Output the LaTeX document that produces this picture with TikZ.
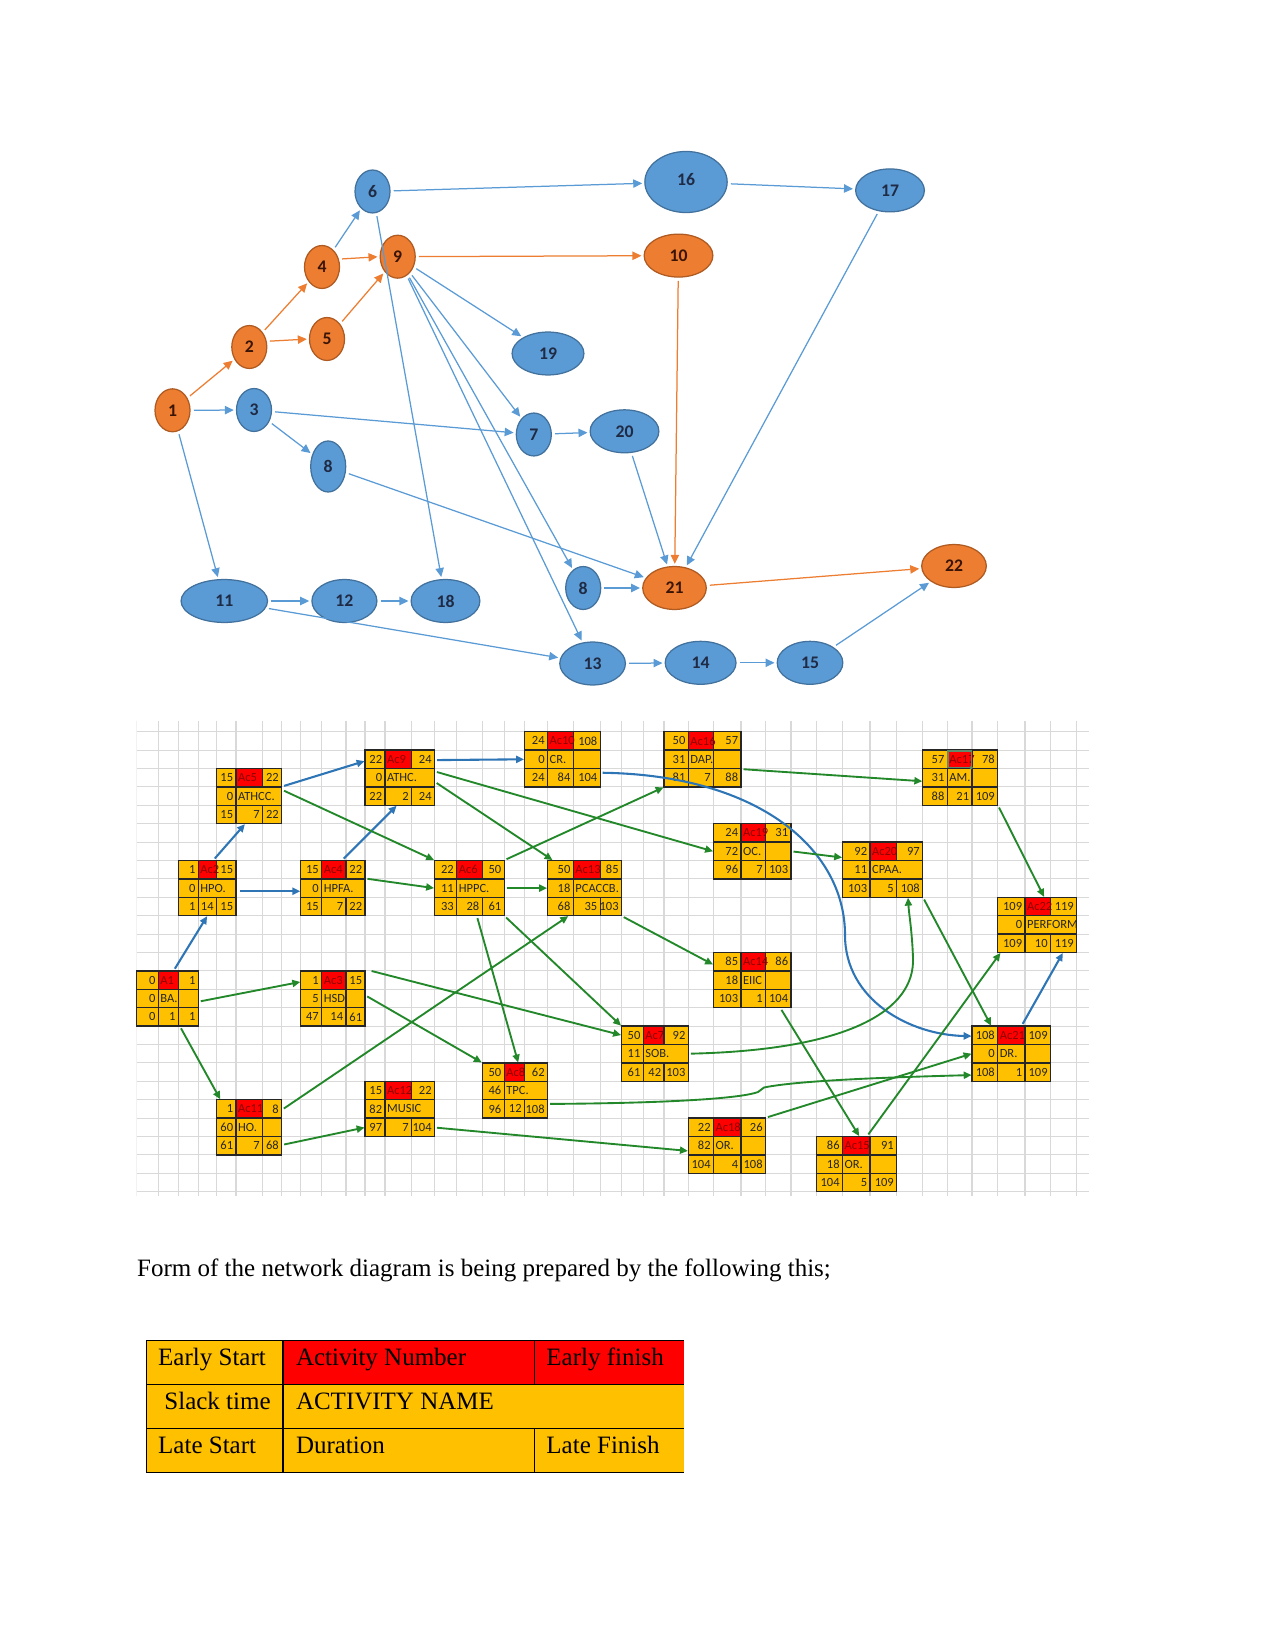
\documentclass[tikz,border=0pt]{standalone}
\usepackage{fontspec}
\setmainfont{Liberation Serif}
\newfontfamily\calibri{Carlito}
\usetikzlibrary{arrows.meta,positioning,fit,shapes.geometric}
\definecolor{EvtBlue}{HTML}{5B9BD5}
\definecolor{EvtBlueLine}{HTML}{41719C}
\definecolor{EvtOrange}{HTML}{ED7D31}
\definecolor{EvtOrangeLine}{HTML}{AE5A21}
\definecolor{EvtText}{HTML}{1F2A44}
\definecolor{CritText}{HTML}{3A1405}
\definecolor{BoxGold}{HTML}{FFC000}
\definecolor{BoxRed}{HTML}{FF0000}
\definecolor{BoxText}{HTML}{262626}
\definecolor{AcText}{HTML}{8B0000}
\definecolor{NetBlue}{HTML}{2E75B6}
\definecolor{NetGreen}{HTML}{23882A}
\definecolor{GridGray}{HTML}{D9D9D9}
\definecolor{SelGreen}{HTML}{5E8C6A}

%% ── activity box: 3 x 3 cells, top-left corner given in px ──────────────
\newcommand\rowh{18.4}
\def\threeof#1/#2/#3\relax{\def\pA{#1}\def\pB{#2}\def\pC{#3}}
\def\twoof#1/#2\relax{\def\pA{#1}\def\pB{#2}}
% #1 name, #2 x, #3 y, #4 widths, #5 ES/Ac/EF, #6 slack/name, #7 LS/dur/LF, #8 split name cell
\newcommand\actbox[8]{%
  \threeof#4\relax
  \pgfmathsetmacro\xB{#2+\pA}%
  \pgfmathsetmacro\xC{\xB+\pB}%
  \pgfmathsetmacro\xD{\xC+\pC}%
  \pgfmathsetmacro\yB{#3+\rowh}%
  \pgfmathsetmacro\yC{#3+2*\rowh}%
  \pgfmathsetmacro\yD{#3+3*\rowh}%
  \fill[BoxGold] (#2,#3) rectangle (\xD,\yD);
  \fill[BoxRed] (\xB,#3) rectangle (\xC,\yB);
  \draw[cellrule] (#2,#3) rectangle (\xD,\yD)
    (#2,\yB) -- (\xD,\yB) (#2,\yC) -- (\xD,\yC)
    (\xB,#3) -- (\xB,\yD)
    (\xC,#3) -- (\xC,\yB) (\xC,\yC) -- (\xC,\yD);
  \ifnum#8=1 \draw[cellrule] (\xC,\yB) -- (\xC,\yC);\fi
  \node[fit={(#2,#3) (\xD,\yD)}, inner sep=0pt] (#1) {};
  \threeof#5\relax
  \node[cellnum] (#1-es) at (\xB,#3+\rowh/2) {\pA};
  \node[actlbl]  (#1-no) at (\xB,#3+\rowh/2) {\pB};
  \node[cellnum] (#1-ef) at (\xD,#3+\rowh/2) {\pC};
  \twoof#6\relax
  \node[cellnum] (#1-sl) at (\xB,\yB+\rowh/2) {\pA};
  \node[actname] (#1-nm) at (\xB,\yB+\rowh/2) {\pB};
  \threeof#7\relax
  \node[cellnum] (#1-ls) at (\xB,\yC+\rowh/2) {\pA};
  \node[cellnum] (#1-du) at (\xC,\yC+\rowh/2) {\pB};
  \node[cellnum] (#1-lf) at (\xD,\yC+\rowh/2) {\pC};
}

\begin{document}
\begin{tikzpicture}[
  x=0.48pt, y=-0.48pt,
  % event ellipses (top network)
  evt/.style={ellipse, draw=EvtBlueLine, fill=EvtBlue, line width=0.6pt,
              inner sep=0pt, minimum width=16.8pt, minimum height=20.6pt,
              font=\calibri\bfseries\fontsize{8.5}{9}\selectfont, text=EvtText},
  crit/.style={evt, draw=EvtOrangeLine, fill=EvtOrange, text=CritText},
  flow/.style={draw=EvtBlue, line width=0.6pt,
               -{Triangle[length=4.3pt,width=4pt]}, shorten <=1.5pt, shorten >=1pt},
  critflow/.style={flow, draw=EvtOrange},
  % activity boxes (bottom network)
  gridline/.style={draw=GridGray, line width=0.5pt},
  cellrule/.style={draw=black!85, line width=0.6pt},
  cellnum/.style={anchor=east, inner sep=1.2pt,
                  font=\calibri\fontsize{6}{7}\selectfont, text=BoxText},
  actlbl/.style={cellnum, anchor=west, inner sep=0.8pt, text=AcText},
  actname/.style={actlbl, text=BoxText},
  bflow/.style={draw=NetBlue, line width=1pt,
                -{Triangle[length=3.8pt,width=3.4pt]}, shorten <=1pt},
  gflow/.style={bflow, draw=NetGreen, line width=0.9pt},
  % legend table
  legrule/.style={draw=black, line width=0.5pt},
  legtxt/.style={anchor=base west, inner sep=0pt, font=\fontsize{12}{14}\selectfont},
]
\useasboundingbox (0,0) rectangle (1275,1650);

%% ── Event nodes ───────────────────────────────────────────────────────────
\node[crit] (n1)  at (172.5,410.3) {1};
\node[crit] (n2)  at (249.3,347)   {2};
\node[evt]  (n3)  at (254,410)     {3};
\node[crit] (n4)  at (322,267)     {4};
\node[crit] (n5)  at (327,339)     {5};
\node[evt]  (n6)  at (372.5,191.5) {6};
\node[crit] (n9)  at (397.7,256.7) {9};
\node[evt, minimum height=24.5pt] (n8a) at (328.2,466.5) {8};
\node[evt, minimum width=34.5pt]  (n19) at (548,353.5)   {19};
\node[evt]  (n7)  at (533.8,434.5) {7};
\node[evt, minimum width=33pt]    (n20) at (624.5,431.3) {20};
\node[evt, minimum width=41.5pt]  (n11) at (224.3,601)   {11};
\node[evt, minimum width=31.2pt]  (n12) at (344.4,601)   {12};
\node[evt, minimum width=33pt]    (n18) at (445.5,601)   {18};
\node[evt]  (n8b) at (583.2,588)   {8};
\node[crit, minimum width=30.5pt] (n21) at (674.5,588)   {21};
\node[evt, minimum width=31.5pt]  (n13) at (592.6,663.5) {13};
\node[evt, minimum width=39.5pt, minimum height=29.3pt] (n16) at (686,182) {\raisebox{2pt}{16}};
\node[crit, minimum width=33pt]   (n10) at (678.5,255.6) {10};
\node[evt, minimum width=33pt]    (n17) at (890,190.4)   {17};
\node[crit, minimum width=31pt]   (n22) at (954,566)     {22};
\node[evt, minimum width=34pt]    (n14) at (700.6,662.8) {14};
\node[evt, minimum width=31.5pt]  (n15) at (810,662.8)   {15};

%% ── Event arrows ──────────────────────────────────────────────────────────
\foreach \a/\b in {n1/n2,n2/n4,n5/n9,n9/n10,n10/n21,n21/n22}
  \draw[critflow] (\a) -- (\b);
\draw[critflow] (n2.18) -- (n5.west);
\draw[critflow] (n4.25) -- (n9.west);
\foreach \a/\b in {n1/n3,n1/n11,n3/n7,n3/n8a,n4/n6,n6/n16,n6/n18,n16/n17,
                   n17/n21,n9/n19,n9/n7,n9/n8b,n9/n13,n7/n20,n20/n21,
                   n8a/n21,n8b/n21,n11/n12,n11/n13,n12/n18,n13/n14,n14/n15,n15/n22}
  \draw[flow] (\a) -- (\b);

%% ── Spreadsheet grid ──────────────────────────────────────────────────────
\def\gridcols{136.7,158.3,178.3,198.3,216.5,236,262.7,281.7,300.7,321.7,346,365,385,
  411.7,434.5,456.7,482.2,504.2,524.5,547.5,573.3,600.2,621.5,643.3,664,688.3,713.5,
  741,765.5,791,816.7,842.5,870,896.7,922.7,947.3,972,997.7,1025,1050.5,1076.7,1102}
\begin{scope}
  \clip (136.7,720.6) rectangle (1089,1196);
  \foreach \gx in \gridcols
    \draw[gridline] (\gx,720.6) -- (\gx,1196);
  \foreach \k in {0,...,25}
    \draw[gridline] (136.7,731.7+\k*\rowh) -- (1089,731.7+\k*\rowh);
\end{scope}

%% ── Activity boxes ────────────────────────────────────────────────────────
\actbox{a1}{136.7}{970.9}{21.6/20/20}{0/A1/1}{0/BA.}{0/1/1}{1}
\actbox{ac2}{178.3}{860.5}{20/18.2/19.5}{1/Ac2/15}{0/HPO.}{1/14/15}{0}
\actbox{ac3}{300.7}{970.9}{21/24.3/19}{1/Ac3/15}{5/HSD.}{47/14/61}{1}
\actbox{ac4}{300.7}{860.5}{21/24.3/19}{15/Ac4/22}{0/HPFA.}{15/7/22}{0}
\actbox{ac5}{216.5}{768.5}{19.5/26.7/19}{15/Ac5/22}{0/ATHCC.}{15/7/22}{0}
\actbox{ac6}{434.5}{860.5}{22.2/25.5/22}{22/Ac6/50}{11/HPPC.}{33/28/61}{0}
\actbox{ac7}{621.5}{1026.1}{21.8/20.7/24.3}{50/Ac7/92}{11/SOB.}{61/42/103}{0}
\actbox{ac8}{482.2}{1062.9}{22/20.3/23}{50/Ac8/62}{46/TPC.}{96/12/108}{0}
\actbox{ac9}{365}{750.1}{20/26.7/22.8}{22/Ac9/24}{0/ATHC.}{22/2/24}{0}
\actbox{ac10}{524.5}{731.7}{23/25.8/26.9}{24/Ac10/108}{0/CR.}{24/84/104}{1}
\actbox{ac11}{216.5}{1099.7}{19.5/26.7/19}{1/Ac11/8}{60/HO.}{61/7/68}{1}
\actbox{ac12}{365}{1081.3}{20/26.7/22.8}{15/Ac12/22}{82/MUSIC}{97/7/104}{0}
\actbox{ac13}{547.5}{860.5}{25.8/26.9/21.3}{50/Ac13/85}{18/PCACCB.}{68/35/103}{0}
\actbox{ac14}{713.5}{952.5}{27.5/24.5/25.5}{85/Ac14/86}{18/EIIC}{103/1/104}{1}
\actbox{ac15}{816.7}{1136.5}{25.8/27.5/26.7}{86/Ac15/91}{18/OR.}{104/5/109}{1}
\actbox{ac16}{664}{731.7}{24.3/25.2/27.5}{50/Ac16/57}{31/DAP.}{81/7/88}{1}
\actbox{ac17}{922.7}{750.1}{24.6/24.7/25.7}{57/Ac17/78}{31/AM.}{88/21/109}{1}
\actbox{ac18}{688.3}{1118.1}{25.2/27.5/24.5}{22/Ac18/26}{82/OR.}{104/4/108}{1}
\actbox{ac19}{713.5}{823.7}{27.5/24.5/25.5}{24/Ac19/31}{72/OC.}{96/7/103}{1}
\actbox{ac20}{842.5}{842.1}{27.5/26.7/26}{92/Ac20/97}{11/CPAA.}{103/5/108}{0}
\actbox{ac21}{972}{1026.1}{25.7/27.3/25.5}{108/Ac21/109}{0/DR.}{108/1/109}{1}
\actbox{ac22}{997.7}{897.3}{27.3/25.5/26.2}{109/Ac22/119}{0/PERFORM}{109/10/119}{0}
% selected cell
\draw[SelGreen, line width=0.5pt] (948,751) rectangle (971.2,767.6);
\fill[SelGreen] (971.2,767.6) circle[radius=0.9pt];

%% ── Critical links (blue) ─────────────────────────────────────────────────
\draw[bflow] ([xshift=3pt]a1.north) -- (ac2.south);
\draw[bflow] ([xshift=3pt]ac2.north) -- ([xshift=-2pt]ac5.south);
\draw[bflow, shorten <=1.5pt] ([yshift=-1.5pt]ac2.east) -- ([yshift=-1.5pt]ac4.west);
\draw[bflow] ([yshift=4.6pt]ac5.east) -- ([yshift=-5.5pt]ac9.north west);
\draw[bflow] ([xshift=4.5pt]ac4.north) -- ([xshift=-1.5pt]ac9.south);
\draw[bflow] ([yshift=-5pt]ac9.north east) -- (ac10.west);
\draw[bflow] ([yshift=7pt]ac10.south east) .. controls (760,775) and (845,850) .. (845,935)
  .. controls (845,1000) and (910,1035) .. ([yshift=-5pt]ac21.north west);
\draw[bflow] ([xshift=5pt]ac21.north) -- ([xshift=12.3pt]ac22.south);

%% ── Other links (green) ───────────────────────────────────────────────────
\draw[gflow] ([yshift=-1.5pt]a1.east) -- ([yshift=-5.5pt]ac3.north west);
\draw[gflow] ([xshift=6pt]a1.south) -- ([xshift=2pt]ac11.north west);
\draw[gflow] ([yshift=3pt]ac5.east) -- (ac6.north west);
\draw[gflow] ([yshift=4.6pt]ac4.east) -- (ac6.west);
\draw[gflow] ([yshift=-2pt]ac9.east) -- ([xshift=2.6pt]ac13.north west);
\draw[gflow] ([yshift=3pt]ac9.east) -- (ac19.west);
\draw[gflow] (ac6.north east) -- (ac16.south west);
\draw[gflow] (ac6.east) -- (ac13.west);
\draw[gflow] ([xshift=3.6pt]ac6.south) -- ([xshift=1.6pt]ac8.north);
\draw[gflow] (ac6.south east) -- (ac7.north west);
\draw[gflow] ([xshift=2pt]ac3.north east) -- ([yshift=-4.5pt]ac7.north west);
\draw[gflow] ([yshift=1.5pt]ac3.east) -- (ac8.north west);
\draw[gflow] ([yshift=-5pt]ac11.north east) -- ([xshift=-7.8pt]ac13.south);
\draw[gflow] ([yshift=5pt]ac11.south east) -- ([yshift=4.5pt]ac12.south west);
\draw[gflow] ([yshift=4.5pt]ac12.south east) -- ([yshift=-2.5pt]ac18.west);
\draw[gflow] (ac13.south east) -- ([yshift=-6pt]ac14.north west);
\draw[gflow] ([yshift=-4.7pt]ac16.east) -- ([yshift=-1.7pt]ac17.west);
\draw[gflow] (ac19.east) -- ([yshift=-7.6pt]ac20.north west);
\draw[gflow] (ac17.south east) -- ([xshift=3.3pt]ac22.north);
\draw[gflow] (ac20.south east) -- ([xshift=-9.7pt]ac21.north);
\draw[gflow] ([xshift=13.5pt]ac14.south) -- ([xshift=1.2pt]ac15.north);
\draw[gflow] ([xshift=5pt]ac15.north) -- ([xshift=1.5pt]ac22.south west);
\draw[gflow] (ac7.east) .. controls (850,1050) and (915,1010) .. (913,958)
  .. controls (912,930) and (909,915) .. ([xshift=12.2pt]ac20.south);
\draw[gflow] ([yshift=7pt]ac8.south east) .. controls (690,1103) and (745,1097) .. (758,1092)
  -- (764,1087.5) .. controls (800,1080) and (900,1077) .. ([yshift=3.2pt]ac21.south west);
\draw[gflow] (ac18.north east) -- (ac21.west);

%% ── Caption line ──────────────────────────────────────────────────────────
\node[legtxt] (caption) at (136.8,1276)
  {Form of the network diagram is being prepared by the following this;};

%% ── Legend table ──────────────────────────────────────────────────────────
\fill[BoxGold] (146.2,1340.3) rectangle (683.8,1472.8);
\fill[BoxRed] (283,1340.3) rectangle (683.8,1384.5);
\draw[legrule] (683.8,1340.3) -- (146.2,1340.3) -- (146.2,1472.8) -- (683.8,1472.8);
\draw[legrule] (146.2,1384.5) -- (683.8,1384.5) (146.2,1428.7) -- (683.8,1428.7);
\draw[legrule] (283,1340.3) -- (283,1472.8)
  (534.4,1340.3) -- (534.4,1384.5) (534.4,1428.7) -- (534.4,1472.8);
\node[legtxt] (lg-es) at (157.8,1365.5) {Early Start};
\node[legtxt] (lg-no) at (295.6,1365.5) {Activity Number};
\node[legtxt] (lg-ef) at (546,1365.5)   {Early finish};
\node[legtxt] (lg-sl) at (164,1409.7)   {Slack time};
\node[legtxt] (lg-nm) at (295.6,1409.7) {ACTIVITY NAME};
\node[legtxt] (lg-ls) at (157.8,1453.9) {Late Start};
\node[legtxt] (lg-du) at (295.6,1453.9) {Duration};
\node[legtxt] (lg-lf) at (546,1453.9)   {Late Finish};

\end{tikzpicture}
\end{document}
